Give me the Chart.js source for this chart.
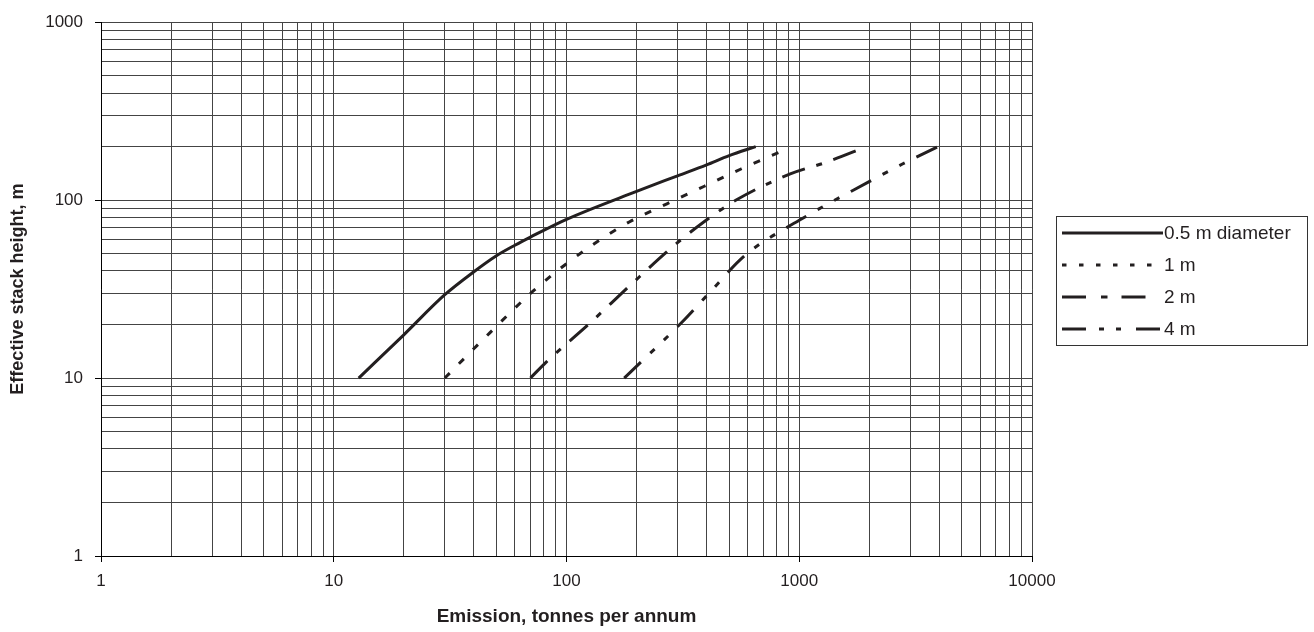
<!DOCTYPE html>
<html>
<head>
<meta charset="utf-8">
<script src="https://cdn.jsdelivr.net/npm/chart.js@4/dist/chart.umd.min.js"></script>
<style>
body { margin: 0; background: #fff; }
canvas { display: block; }
</style>
</head>
<body>
<canvas id="graf" width="1314" height="632"></canvas>
<script>
// emisija (t/leto) proti efektivni visini dimnika (m), ena krivulja za vsak premer
const dekade_x = [1, 10, 100, 1000, 10000];
const dekade_y = [1, 10, 100, 1000];

const imena = ['0.5 m diameter', '1 m', '2 m', '4 m'];

const emisija_05 = [12.8, 20, 30, 40, 50, 60, 70, 100, 200, 300, 400, 500, 650];
const visina_05 = [10, 17.5, 29.4, 39.6, 48.7, 55.8, 62, 78, 112, 137, 158, 178, 200];

const emisija_1 = [30, 46.7, 72, 99, 132, 186, 270, 391, 562, 870];
const visina_1 = [10, 17.9, 30.9, 43.5, 57, 75.4, 95.3, 119.7, 149.6, 192];

const emisija_2 = [70, 81.8, 124.7, 189.6, 291, 385, 538, 915, 1302, 1950];
const visina_2 = [10, 12.3, 20.1, 33.6, 55.8, 74.7, 100.4, 140.3, 163, 200];

const emisija_4 = [177, 311, 404, 587, 1000, 1997, 2775, 3950];
const visina_4 = [10, 20.4, 29.4, 49.1, 77, 127, 159.6, 200];

let barva = '#231f20';
let mreza = '#444444';
let pisava = 'Liberation Sans, Arial, sans-serif';
let debelina = 3;

// crtkanje v grafu in v legendi
const crte = [[], [7, 13], [24, 12, 6, 12], [23, 13, 6, 13, 6, 13]];
const crte_legenda = [[], [4.5, 12.5], [24, 15, 6.5, 14], [24, 13, 5, 12, 5, 15]];
const dolzine_legenda = [101, 90, 84, 98];

function tocke(xs, ys) {
    return xs.map((x, i) => ({ x: x, y: ys[i] }));
}

// kljukice na 1..9 v vsaki dekadi
function logKljukice(dekade) {
    const vrednosti = [];
    for (let i = 0; i < dekade.length - 1; i++) {
        for (let k = 1; k < 10; k++) vrednosti.push(k * dekade[i]);
    }
    vrednosti.push(dekade[dekade.length - 1]);
    return vrednosti.map(v => ({ value: v, major: dekade.includes(v) }));
}

const legenda = {
    id: 'legenda',
    afterDraw(chart) {
        const ctx = chart.ctx;
        const levo = chart.chartArea.right + 24;
        const zgoraj = 216;
        ctx.save();
        ctx.strokeStyle = '#333';
        ctx.lineWidth = 1;
        ctx.strokeRect(levo + 0.5, zgoraj + 0.5, 251, 129);
        ctx.font = '19px ' + pisava;
        ctx.fillStyle = barva;
        ctx.textBaseline = 'middle';
        imena.forEach((ime, i) => {
            const y = zgoraj + 17 + i * 32;
            ctx.strokeStyle = barva;
            ctx.lineWidth = debelina;
            ctx.setLineDash(crte_legenda[i]);
            ctx.beginPath();
            ctx.moveTo(levo + 6, y);
            ctx.lineTo(levo + 6 + dolzine_legenda[i], y);
            ctx.stroke();
            ctx.setLineDash([]);
            ctx.fillText(ime, levo + 108, y + 1);
        });
        ctx.restore();
    }
};

const podatki = [
    tocke(emisija_05, visina_05),
    tocke(emisija_1, visina_1),
    tocke(emisija_2, visina_2),
    tocke(emisija_4, visina_4)
];

const platno = document.getElementById('graf').getContext('2d');
const graf = new Chart(platno, {
    type: 'line',
    data: {
        datasets: podatki.map((d, i) => ({
            label: imena[i],
            data: d,
            borderColor: barva,
            borderWidth: debelina,
            borderDash: crte[i],
            pointRadius: 0,
            cubicInterpolationMode: 'monotone',
            fill: false
        }))
    },
    options: {
        responsive: false,
        animation: false,
        layout: { padding: { top: 20, right: 282, left: 0, bottom: 0 } },
        plugins: {
            legend: { display: false },
            tooltip: { enabled: false }
        },
        scales: {
            x: {
                type: 'logarithmic',
                min: 1,
                max: 10000,
                afterBuildTicks: s => { s.ticks = logKljukice(dekade_x); },
                afterFit: s => { s.height = 76; },
                grid: {
                    color: mreza,
                    lineWidth: 1,
                    tickLength: 6,
                    tickColor: c => (c.tick && c.tick.major) ? '#000' : 'rgba(0,0,0,0)'
                },
                border: { color: '#000' },
                ticks: {
                    autoSkip: false,
                    maxRotation: 0,
                    padding: 9,
                    color: barva,
                    font: { size: 17, family: pisava },
                    callback: v => dekade_x.includes(v) ? String(v) : ''
                },
                title: {
                    display: true,
                    text: 'Emission, tonnes per annum',
                    color: barva,
                    font: { size: 19, weight: 'bold', family: pisava },
                    padding: { top: 0, bottom: 4 }
                }
            },
            y: {
                type: 'logarithmic',
                min: 1,
                max: 1000,
                afterBuildTicks: s => { s.ticks = logKljukice(dekade_y); },
                afterFit: s => { s.width = 101; },
                grid: {
                    color: mreza,
                    lineWidth: 1,
                    tickLength: 6,
                    tickColor: c => (c.tick && c.tick.major) ? '#000' : 'rgba(0,0,0,0)'
                },
                border: { color: '#000' },
                ticks: {
                    autoSkip: false,
                    padding: 12,
                    color: barva,
                    font: { size: 17, family: pisava },
                    callback: v => dekade_y.includes(v) ? String(v) : ''
                },
                title: {
                    display: true,
                    text: 'Effective stack height, m',
                    color: barva,
                    font: { size: 18, weight: 'bold', family: pisava },
                    padding: { top: 7, bottom: 0 }
                }
            }
        }
    },
    plugins: [legenda]
});
</script>
</body>
</html>
